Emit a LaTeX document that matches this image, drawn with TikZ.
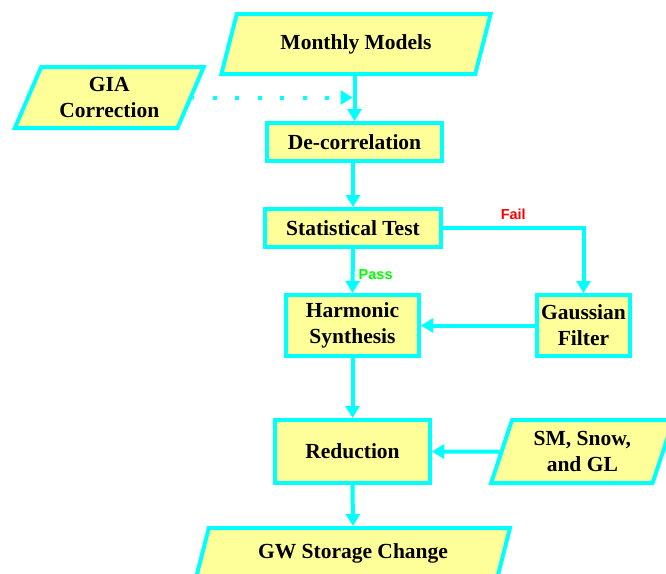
\documentclass[tikz,border=0pt]{standalone}
\usepackage{fontspec}
\setmainfont{Liberation Serif}
\newfontfamily\labelfont{Liberation Sans}
\usetikzlibrary{shapes.geometric,arrows.meta}
\definecolor{flowline}{RGB}{0,255,255}
\definecolor{boxfill}{RGB}{255,255,153}
\definecolor{failred}{RGB}{255,0,0}
\definecolor{passgreen}{RGB}{0,255,0}
\tikzset{
  box/.style={draw=flowline, fill=boxfill, line width=4pt, rectangle, inner sep=0pt,
    align=center, font=\fontsize{21.5}{26}\selectfont\bfseries},
  para/.style={box, trapezium, trapezium stretches=true},
  conn/.style={draw=flowline, line width=4pt, -{Triangle[width=14pt,length=12pt]}},
  dotconn/.style={draw=flowline, line width=4pt, dash pattern=on 4pt off 18.5pt, dash phase=2.5pt,
    -{Triangle[width=14pt,length=12pt]}},
  lbl/.style={inner sep=0pt, font=\labelfont\fontsize{14.5}{16}\selectfont\bfseries},
}
\begin{document}
\begin{tikzpicture}[x=1pt,y=-1pt]
\clip (0,0) rectangle (666,573);
\fill[white] (0,0) rectangle (666,573);

\node[para, trapezium left angle=63.4, trapezium right angle=116.6, minimum width=270pt, minimum height=60pt] (mm) at (356,44) {Monthly Models};
\node[para, trapezium left angle=64.5, trapezium right angle=115.5, minimum width=189pt, minimum height=61pt] (gia) at (109.3,97.5) {GIA\\Correction};
\node[box, minimum width=175pt, minimum height=38pt] (dc) at (354.5,142) {De-correlation};
\node[box, minimum width=176pt, minimum height=38pt] (st) at (353,228) {Statistical Test};
\node[box, minimum width=133pt, minimum height=61pt] (hs) at (352.5,325.5) {Harmonic\\Synthesis};
\node[box, minimum width=93pt, minimum height=61pt] (gf) at (583.5,325.5) {Gaussian\\Filter};
\node[box, minimum width=155pt, minimum height=63pt] (red) at (352.5,451.5) {Reduction};
\node[para, trapezium left angle=70.3, trapezium right angle=109.7, minimum width=182.6pt, minimum height=63pt] (sm) at (582.3,451.5) {SM, Snow,\\and GL};
\node[para, trapezium left angle=66.9, trapezium right angle=113.1, minimum width=314pt, minimum height=50pt] (gw) at (353,553) {GW Storage Change};

\draw[conn] (mm.south -| dc.north) -- (dc.north);
\draw[dotconn, shorten >=2pt] (gia.east) -- (gia.east -| dc.north);
\draw[conn] (st.north |- dc.south) -- (st.north);
\draw[conn] (st.east) -| node[lbl, pos=0.25, yshift=13.5pt, text=failred] {Fail} (gf.north);
\draw[conn] (st.south) -- node[lbl, pos=0.57, anchor=west, xshift=4pt, text=passgreen] {Pass} (hs.north);
\draw[conn] (gf.west) -- (hs.east);
\draw[conn] (hs.south) -- (red.north);
\draw[conn] (sm.west) -- (red.east);
\draw[conn] (red.south) -- (gw.north);
\end{tikzpicture}
\end{document}
